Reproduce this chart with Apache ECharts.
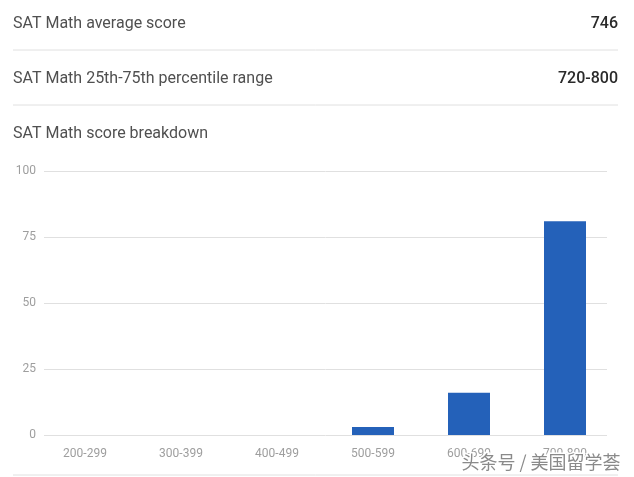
<!DOCTYPE html>
<html><head><meta charset="utf-8">
<script src="https://cdn.jsdelivr.net/npm/echarts@6/dist/echarts.min.js"></script>
<style>html,body{margin:0;padding:0;background:#fff}#c{width:634px;height:477px}</style>
</head><body><div id="c"></div>
<script>
const categories = ['200-299','300-399','400-499','500-599','600-699','700-800'];
const values = [0, 0, 0, 3, 16, 81];
const yTicks = [0, 25, 50, 75, 100];
const rows = [
  ['SAT Math average score', '746'],
  ['SAT Math 25th-75th percentile range', '720-800'],
  ['SAT Math score breakdown', '']
];
const chart = echarts.init(document.getElementById('c'));
const font = 'Roboto, "Noto Sans", sans-serif';
const graphics = [];
rows.forEach((r, i) => {
  const y = 22 + i * 55;
  graphics.push({type:'text', left:13, top:y-6, style:{text:r[0], fill:'#505050', font:'16px ' + font}});
  if (r[1]) graphics.push({type:'text', right:16, top:y-6, style:{text:r[1], fill:'#2a2a2a', font:'500 16px ' + font, textAlign:'right'}});
});
[50, 105, 475].forEach(y => graphics.push({type:'line', shape:{x1:13, y1:y, x2:618, y2:y}, style:{stroke:'#e0e0e0', lineWidth:1}, silent:true}));
graphics.push({type:'text', right:12, top:452, z:100, style:{text:'头条号 / 美国留学荟', fill:'#8a8a8a', font:'18px "Noto Sans CJK SC", sans-serif', stroke:'#fff', lineWidth:3}});
chart.setOption({
  animation:false,
  grid:[
    {left:44, right:27, top:171, bottom:42},
    {left:37, right:21, top:171, bottom:42}
  ],
  xAxis:[
    {type:'category', gridIndex:0, data:categories, show:false},
    {type:'category', gridIndex:1, data:categories, axisLine:{show:false}, axisTick:{show:false},
     axisLabel:{color:'#9e9e9e', fontSize:12, fontFamily:font, margin:13}}
  ],
  yAxis:[
    {type:'value', gridIndex:0, min:0, max:100, interval:25, axisLine:{show:false}, axisTick:{show:false},
     axisLabel:{color:'#9e9e9e', fontSize:12, fontFamily:font, margin:8, formatter:v => yTicks.includes(v) ? String(v) : ''},
     splitLine:{lineStyle:{color:'#e0e0e0'}}},
    {type:'value', gridIndex:1, min:0, max:100, interval:25, show:false, splitLine:{show:false}}
  ],
  series:[{type:'bar', xAxisIndex:1, yAxisIndex:1, data:values, barWidth:42, itemStyle:{color:'#2461b9'}}],
  graphic:graphics
});
</script></body></html>
